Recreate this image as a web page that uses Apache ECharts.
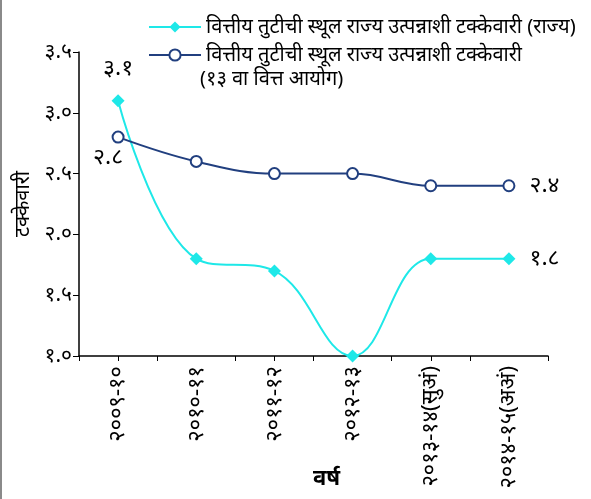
<!DOCTYPE html>
<html><head><meta charset="utf-8">
<script src="https://cdn.jsdelivr.net/npm/echarts@6/dist/echarts.min.js"></script>
<style>html,body{margin:0;padding:0;background:#fff}#c{width:591px;height:499px}</style>
</head><body><div id="c"></div>
<script>
const categories = ['2009-10','2010-11','2011-12','2012-13','2013-14(सुअं)','2014-15(अअं)'];
const stateValues = [3.1, 1.8, 1.7, 1.0, 1.8, 1.8];
const commissionValues = [2.8, 2.6, 2.5, 2.5, 2.4, 2.4];
const seriesNames = ['वित्तीय तुटीची स्थूल राज्य उत्पन्नाशी टक्केवारी (राज्य)', 'वित्तीय तुटीची स्थूल राज्य उत्पन्नाशी टक्केवारी'];
const legendSecondLine = '(१३ वा वित्त आयोग)';
const yTitle = 'टक्केवारी';
const xTitle = 'वर्ष';

const devDigits = '०१२३४५६७८९';
function dev(s){ return String(s).replace(/[0-9]/g, d => devDigits[+d]); }
const FONT = '"Noto Sans", "DejaVu Sans", sans-serif';

const cyan = '#1EE8E8';
const navy = '#213F7F';
const last = stateValues.length - 1;

const stateData = stateValues.map((v,i) => {
  const o = {value: v};
  if (i === 0) o.label = {show: true, position: 'top', distance: 14};
  if (i === last) o.label = {show: true, position: 'right', distance: 14};
  return o;
});
const commData = commissionValues.map((v,i) => {
  const o = {value: v};
  if (i === 0) o.label = {show: true, position: 'bottom', distance: 2, offset: [-10, 0]};
  if (i === last) o.label = {show: true, position: 'right', distance: 14};
  return o;
});

const chart = echarts.init(document.getElementById('c'), null, {renderer: 'canvas'});
chart.setOption({
  animation: false,
  textStyle: {fontFamily: FONT},
  grid: {left: 79, right: 43, top: 52, bottom: 143, containLabel: false, outerBoundsMode: 'none'},
  legend: {
    orient: 'vertical', left: 143, top: 10, itemWidth: 52, itemHeight: 14, itemGap: 4,
    textStyle: {fontSize: 20, color: '#000', lineHeight: 24, fontFamily: FONT},
    data: seriesNames
  },
  graphic: [
    {type: 'rect', left: 0, top: 0, shape: {width: 2, height: 499}, style: {fill: '#8a8a8a'}},
    {type: 'text', left: 200, top: 69, style: {text: legendSecondLine, font: '20px ' + FONT, fill: '#000'}}
  ],
  xAxis: [{
    type: 'category', data: categories, boundaryGap: true,
    axisLine: {lineStyle: {color: '#000', width: 1.5}},
    axisTick: {show: true, length: 5, lineStyle: {color: '#000'}},
    axisLabel: {rotate: 90, color: '#000', fontSize: 22, margin: 10, interval: 0, formatter: v => dev(v)},
    name: xTitle, nameLocation: 'middle', nameGap: 112, nameMoveOverlap: false,
    nameTextStyle: {fontSize: 22, fontWeight: 'bold', color: '#000', padding: [0, 0, 0, 26]}
  }, {
    type: 'category', data: categories, boundaryGap: true, position: 'bottom',
    axisLine: {show: false},
    axisTick: {show: true, alignWithLabel: true, length: 5, lineStyle: {color: '#000'}},
    axisLabel: {show: false}
  }],
  yAxis: {
    type: 'value', min: 1.0, max: 3.5, interval: 0.5,
    splitLine: {show: false},
    axisLine: {show: true, lineStyle: {color: '#000', width: 1.5}},
    axisTick: {show: true, length: 6, lineStyle: {color: '#000'}},
    axisLabel: {color: '#000', fontSize: 21, margin: 7, formatter: v => dev(v.toFixed(1))},
    name: yTitle, nameLocation: 'middle', nameGap: 46, nameRotate: 90, nameMoveOverlap: false,
    nameTextStyle: {fontSize: 20, color: '#000', padding: [0, 0, 0, 0]}
  },
  series: [{
    name: seriesNames[0], type: 'line', data: stateData, smooth: 0.4,
    symbol: 'diamond', symbolSize: 13,
    lineStyle: {color: cyan, width: 2}, itemStyle: {color: cyan},
    label: {show: false, color: '#000', fontSize: 23, formatter: p => dev(p.value.toFixed(1))}
  }, {
    name: seriesNames[1], type: 'line', data: commData, smooth: 0.4,
    symbol: 'circle', symbolSize: 11,
    lineStyle: {color: navy, width: 2}, itemStyle: {color: '#fff', borderColor: navy, borderWidth: 2},
    label: {show: false, color: '#000', fontSize: 23, formatter: p => dev(p.value.toFixed(1))}
  }]
});
</script></body></html>
